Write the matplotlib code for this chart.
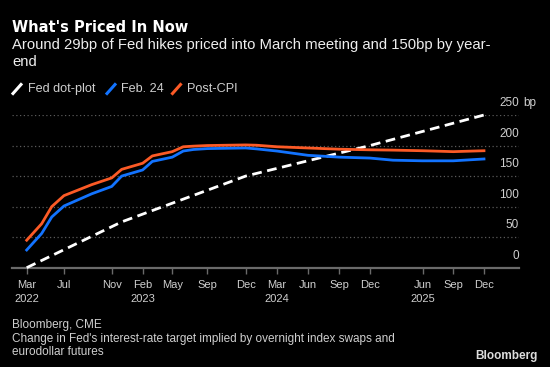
import matplotlib
matplotlib.use('Agg')
import matplotlib.pyplot as plt
import matplotlib.transforms as mtransforms
from matplotlib.lines import Line2D

plt.rcParams['font.family'] = ['Liberation Sans', 'DejaVu Sans']

# x positions are in axis units (roughly months from Mar 2022, as spaced on the chart)
x_pos = [0, 1.47, 2.46, 3.66, 6.39, 8.35, 9.33, 11.39, 12.34, 14.30, 15.38, 16.37,
         17.74, 21.51, 22.59, 24.58, 27.63, 30.71, 33.72, 35.98, 38.88, 41.9, 44.92]
post_cpi = [45, 72, 100, 118, 136, 147, 161, 171, 183, 190, 198, 199,
            200, 201, 200.5, 198, 196, 194, 193, 192.5, 191.5, 190, 191.5]
feb_24 = [29, 56, 83, 101, 121, 133, 150, 160, 174, 181, 191, 193.5,
          195, 196, 194.5, 191, 184, 181, 179.5, 176, 175, 175, 178]

dot_x = [0, 9.33, 21.51, 33.72, 44.92]
dot_plot = [0, 75, 150, 200, 250]

tick_pos = [0, 3.63, 8.35, 11.39, 14.30, 17.74, 21.54, 24.56, 27.66, 30.71, 33.72, 38.9, 41.9, 44.95]
tick_labels = ['Mar\n2022', 'Jul', 'Nov', 'Feb\n2023', 'May', 'Sep', 'Dec', 'Mar\n2024',
               'Jun', 'Sep', 'Dec', 'Jun\n2025', 'Sep', 'Dec']
y_ticks = [0, 50, 100, 150, 200, 250]

W, H = 550, 367
fig = plt.figure(figsize=(5.5, 3.67), dpi=100)
fig.patch.set_facecolor('black')

# axes placed by pixel edges
left, right, bottom, top = 12, 519, 267.7, 115
ax = fig.add_axes([left / W, 1 - bottom / H, (right - left) / W, (bottom - top) / H])
ax.set_facecolor('black')

grey = '#cfcfcf'
ax.plot(dot_x, dot_plot, color='white', lw=2, dashes=(3.5, 2), clip_on=False, zorder=3)
ax.plot(x_pos, feb_24, color='#1273ff', lw=2, clip_on=False, zorder=4)
ax.plot(x_pos, post_cpi, color='#fb5a26', lw=2, clip_on=False, zorder=5)

ax.set_xlim((left - 26.7) / 10.18, (right - 26.7) / 10.18)
ax.set_ylim(0, 250)

for s in ['top', 'right', 'left']:
    ax.spines[s].set_visible(False)
ax.spines['bottom'].set_color('#6a6a6a')
ax.spines['bottom'].set_linewidth(1.6)
ax.spines['bottom'].set_zorder(2)

for v in y_ticks[1:]:
    ax.axhline(v, color='#5a5a5a', lw=0.9, ls=(0, (1, 2)), zorder=1)

ax.set_xticks(tick_pos)
ax.set_xticklabels(tick_labels, fontsize=8, color=grey, linespacing=1.45)
ax.tick_params(axis='x', length=4, width=1, color='#6a6a6a', pad=5)
ax.set_yticks([])

# y labels sit above their gridlines, at the right edge
lab_tr = mtransforms.offset_copy(ax.get_yaxis_transform(), fig=fig, x=0, y=8.5, units='points')
for v in y_ticks:
    ax.text(1.0, v, str(v), transform=lab_tr, ha='right', va='center', fontsize=8.5, color=grey)
bp_tr = mtransforms.offset_copy(ax.get_yaxis_transform(), fig=fig, x=3, y=8.5, units='points')
ax.text(1.0, 250, 'bp', transform=bp_tr, ha='left', va='center', fontsize=8.5, color=grey)


def fx(px):
    return px / W


def fy(py):
    return 1 - py / H


fig.text(fx(12), fy(27), "What's Priced In Now", fontsize=10.5, fontweight='bold',
         color='white', va='center', family='DejaVu Sans')
fig.text(fx(12), fy(45), 'Around 29bp of Fed hikes priced into March meeting and 150bp by year-',
         fontsize=10.7, color='#eeeeee', va='center')
fig.text(fx(12), fy(62.5), 'end', fontsize=10.7, color='#eeeeee', va='center')

# legend
legend = [('Fed dot-plot', 'white', 13, 27.5), ('Feb. 24', '#1273ff', 107, 121),
          ('Post-CPI', '#fb5a26', 172.5, 187)]
for name, col, sx, tx in legend:
    fig.add_artist(Line2D([fx(sx), fx(sx + 8)], [fy(93.5), fy(84.5)], color=col, lw=2.2,
                          transform=fig.transFigure))
    fig.text(fx(tx), fy(89), name, fontsize=9.1, color=grey, va='center')

fig.text(fx(12), fy(325), 'Bloomberg, CME', fontsize=8.5, color=grey, va='center')
fig.text(fx(12), fy(339), "Change in Fed's interest-rate target implied by overnight index swaps and",
         fontsize=8.5, color=grey, va='center')
fig.text(fx(12), fy(352), 'eurodollar futures', fontsize=8.5, color=grey, va='center')
fig.text(fx(538), fy(356), 'Bloomberg', fontsize=8.5, fontweight='bold', color='#dddddd',
         va='center', ha='right')

plt.savefig('out.png', facecolor=fig.get_facecolor())
